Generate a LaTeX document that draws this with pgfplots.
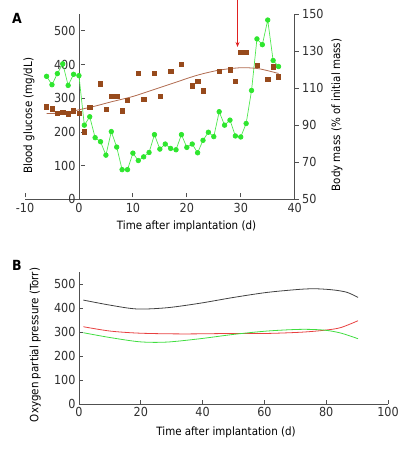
\documentclass[border=0pt]{standalone}
\usepackage{pgfplots}
\pgfplotsset{compat=1.18}
\usepackage{fontspec}
\setmainfont{DejaVu Sans Condensed}
\usetikzlibrary{arrows.meta}
\definecolor{gr}{HTML}{2EE62E}
\definecolor{grl}{HTML}{4FE84F}
\definecolor{br}{HTML}{974A1C}
\definecolor{brc}{HTML}{B06A4E}
\definecolor{axc}{HTML}{505050}
\definecolor{txt}{HTML}{303030}
\definecolor{ar}{HTML}{E02020}
\definecolor{rc}{HTML}{E84040}
\definecolor{kc}{HTML}{404040}
\definecolor{gc}{HTML}{40DD40}

\pgfplotstableread{
x y
-6 365
-5 340
-4 373
-3 402
-2 338
-1 371
0 367
1 220
2 245
3 183
4 171
5 131
6 201
7 155
8 88
9 88
10 137
11 115
12 126
13 139
14 192
15 149
16 164
17 151
18 147
19 192
20 154
21 164
22 138
23 175
24 199
25 186
26 260
27 220
28 235
29 188
30 185
31 225
32 323
33 476
34 459
35 532
36 412
37 394
}\glucose

\pgfplotstableread{
x y
-6 100.0
-5 98.9
-4 96.5
-3 96.9
-2 96.2
-1 97.8
0 96.5
1 86.5
2 99.6
4 112.4
5 98.5
6 105.7
6.5 105.7
7 105.7
8 97.8
9 103.3
11 117.9
12 104.0
14 118.2
15 105.8
17 119.2
19 122.8
21 111.3
22 113.9
23 108.6
26 119.2
28 119.9
29 113.9
30 129.2
30.5 129.2
31 129.2
33 122.3
35 114.8
36 121.5
37 116.2
}\mass

\pgfplotstableread{
x y
-6 96.3
-3 96.6
0 98.3
3 100.3
6 102.6
10 105.5
14 109.3
18 113.2
22 117.0
26 119.7
30 121.0
33 120.6
35 119.4
37 117.9
}\masscurve

\begin{document}
\begin{tikzpicture}[x=1bp,y=1bp]
\useasboundingbox (0,0) rectangle (400,451);
\pgfplotsset{
  every axis/.append style={
    font=\fontsize{11.5}{13}\selectfont,
    scale only axis,
    axis line style={-,color=axc,line width=0.8pt},
    tick style={color=axc,line width=0.8pt},
    major tick length=4bp,
    tick label style={text=txt,font=\fontsize{12.5}{14}\selectfont},
    label style={text=txt},
    /pgf/number format/assume math mode=true,
    hide obscured x ticks=false,
    hide obscured y ticks=false,
  }
}
% Panel A, left axis
\begin{axis}[
  at={(25bp,251.7bp)}, anchor=south west,
  width=269.7bp, height=185.3bp,
  xmin=-10, xmax=40, ymin=0, ymax=550,
  axis x line*=bottom, axis y line*=middle,
  xtick={-10,0,10,20,30,40},
  ytick={0,100,200,300,400,500},
  x tick style={yshift=2bp},
  y tick style={xshift=2bp},
  clip=false,
  every axis x label/.style={at={(axis description cs:0.599,-0.144)},anchor=center},
  every axis y label/.style={at={(axis description cs:0.015,0.451)},rotate=90,anchor=center},
  xlabel={Time after implantation (d)},
  ylabel={Blood glucose (mg/dL)},
]
\addplot[color=grl, line width=0.7pt, mark=*, mark size=2.3bp,
  mark options={draw=gr, fill=gr}] table[x=x,y=y] {\glucose};
\draw[ar, line width=0.8pt, -{Stealth[length=5bp,width=4bp]}] (axis cs:29.4,592) -- (axis cs:29.4,452);
\end{axis}
% Panel A, right axis
\begin{axis}[
  at={(25bp,251.7bp)}, anchor=south west,
  width=269.7bp, height=185.3bp,
  xmin=-10, xmax=40, ymin=50, ymax=150,
  axis x line=none, axis y line*=right,
  ytick={50,70,90,110,130,150},
  tick align=outside,
  every axis y label/.style={at={(axis description cs:1.157,0.455)},rotate=90,anchor=center},
  ylabel={Body mass (\% of initial mass)},
]
\addplot[color=brc, line width=0.8pt, smooth, no marks] table[x=x,y=y] {\masscurve};
\addplot[only marks, mark=square*, mark size=2.1bp, mark options={draw=br, fill=br}] table[x=x,y=y] {\mass};
\end{axis}
% Panel B
\begin{axis}[
  at={(79bp,47bp)}, anchor=south west,
  width=309bp, height=132bp,
  xmin=0, xmax=100, ymin=0, ymax=550,
  axis x line*=bottom, axis y line*=left,
  xtick={0,20,40,60,80,100},
  ytick={0,100,200,300,400,500},
  tick align=inside,
  every axis x label/.style={at={(axis description cs:0.476,-0.212)},anchor=center},
  every axis y label/.style={at={(axis description cs:-0.142,0.447)},rotate=90,anchor=center},
  xlabel={Time after implantation (d)},
  ylabel={Oxygen partial pressure (Torr)},
]
\addplot[color=kc, line width=0.8pt, smooth, no marks] coordinates {
(1.4,433) (10,412) (18.7,396) (28.4,401) (39.2,420) (50,444) (60.9,465) (71.7,478) (77,480) (82.5,475) (86.8,465) (90.3,444)};
\addplot[color=rc, line width=0.8pt, smooth, no marks] coordinates {
(1.4,322) (10,304) (19.8,295) (33.8,292) (50,294) (60.9,294) (71.7,299) (79.2,307) (84.6,318) (90.3,347)};
\addplot[color=gc, line width=0.8pt, smooth, no marks] coordinates {
(1.4,297) (10,277) (19.8,259) (28.4,258) (39.2,272) (50,290) (60.9,304) (71.7,311) (79.2,308) (84.6,296) (90.3,272)};
\end{axis}
\node[font=\bfseries\fontsize{14}{14}\selectfont, text=black] at (17,433) {A};
\node[font=\bfseries\fontsize{14}{14}\selectfont, text=black] at (17,186) {B};
\end{tikzpicture}
\end{document}
